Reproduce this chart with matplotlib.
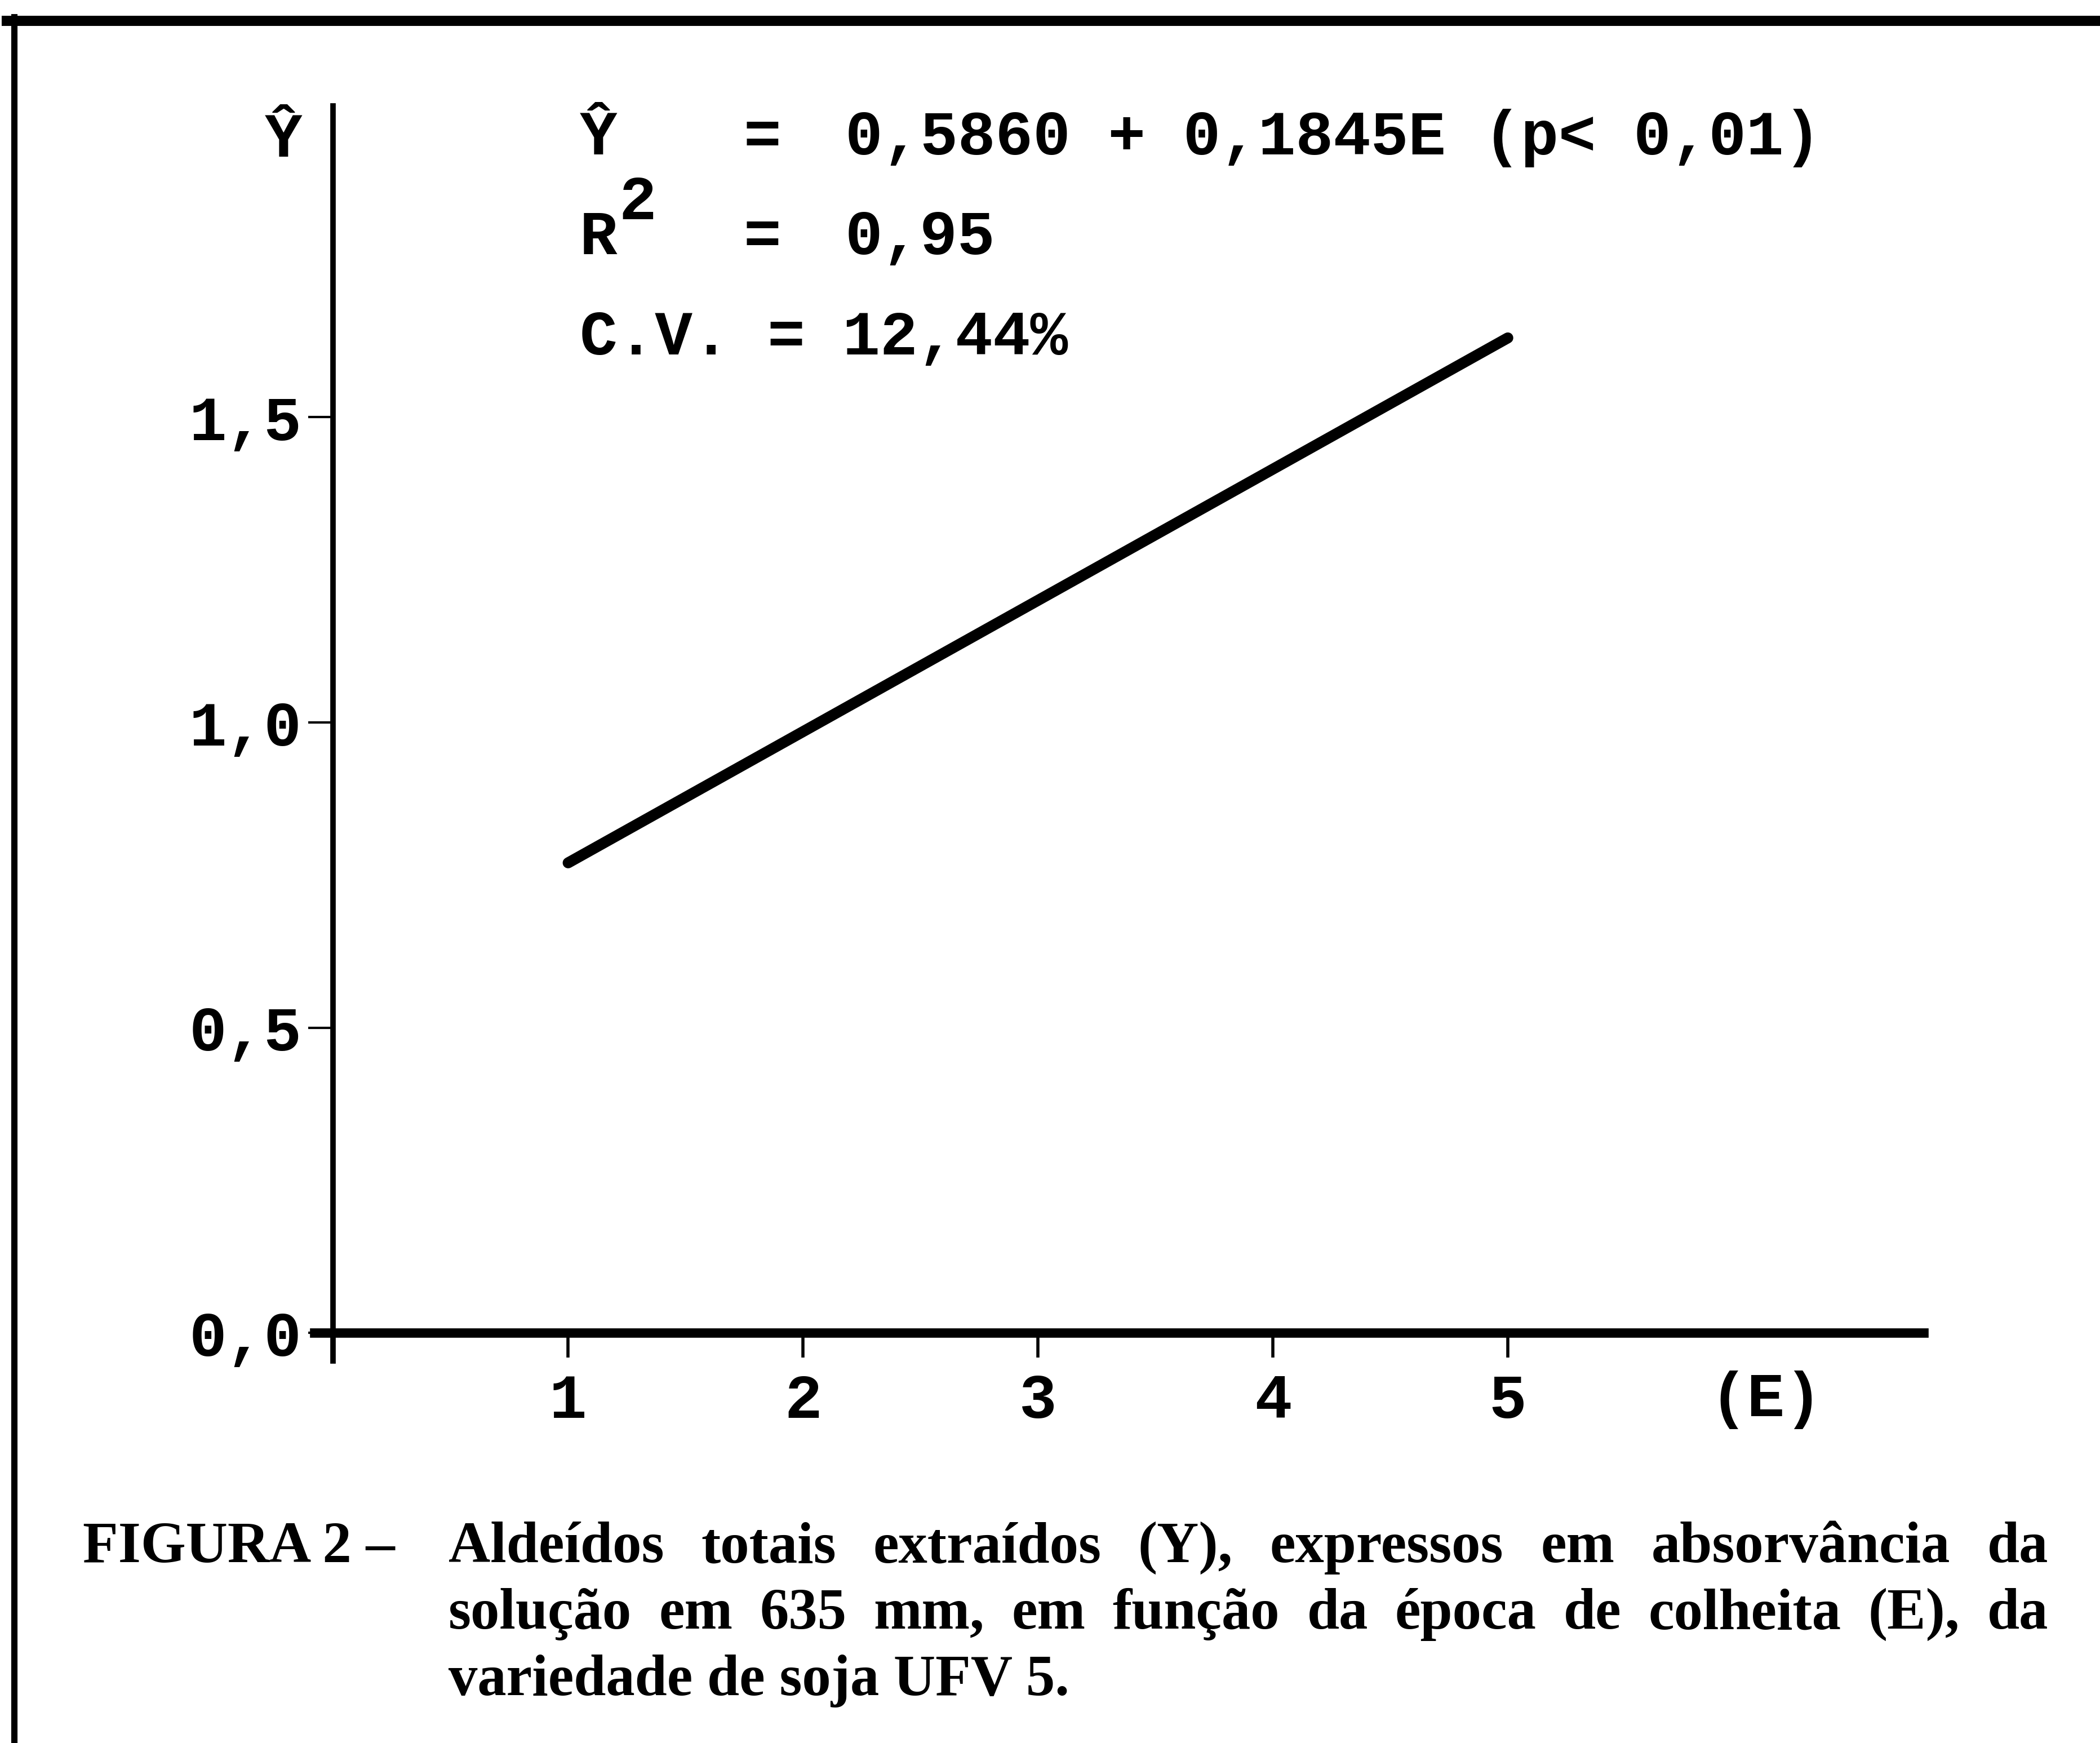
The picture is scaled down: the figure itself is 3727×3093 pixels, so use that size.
import matplotlib

matplotlib.use("Agg")
import matplotlib.pyplot as plt
from matplotlib.lines import Line2D
from matplotlib.transforms import IdentityTransform

W, H = 3727, 3093
DPI = 100
MONO = "Liberation Mono"
SERIF = "Liberation Serif"

# data
epoca = [1, 5]
aldeidos = [0.77, 1.63]
x_ticks = [1, 2, 3, 4, 5]
x_tick_labels = ["1", "2", "3", "4", "5"]
y_ticks = [0.0, 0.5, 1.0, 1.5]
y_tick_labels = ["0,0", "0,5", "1,0", "1,5"]

equacao = "0,5860 + 0,1845E (p< 0,01)"
r2_valor = "0,95"
cv_texto = "C.V. = 12,44%"

legenda_titulo = "FIGURA 2 \u2013"
legenda_l1 = "Aldeídos totais extraídos (Y), expressos em absorvância da"
legenda_l2 = "solução em 635 mm, em função da época de colheita (E), da"
legenda_l3 = "variedade de soja UFV 5."


def px(x, y):
    """pixel position (from top-left) -> figure fraction"""
    return x / W, 1 - y / H


fig = plt.figure(figsize=(W / DPI, H / DPI), dpi=DPI)

# axes: x=0 at 591 px, 417 px/unit ; y=0 at 2365 px, 1083 px/unit
ax = fig.add_axes([558 / W, 1 - 2415 / H, (3414 - 558) / W, (2415 - 188) / H])
ax.set_xlim(-0.08, 6.77)
ax.set_ylim(-0.046, 2.01)
ax.patch.set_alpha(0)

for s in ["top", "right"]:
    ax.spines[s].set_visible(False)
ax.spines["left"].set_position(("data", 0))
ax.spines["bottom"].set_position(("data", 0))
ax.spines["left"].set_linewidth(7)
ax.spines["bottom"].set_linewidth(12)

ax.plot(epoca, aldeidos, color="black", lw=14, solid_capstyle="round")

ax.set_xticks(x_ticks)
ax.set_xticklabels(x_tick_labels)
ax.set_yticks(y_ticks)
ax.set_yticklabels(y_tick_labels)
ax.tick_params(axis="y", direction="out", length=32, width=3, pad=8)
ax.tick_params(axis="x", direction="out", length=32, width=4, pad=18)
for lab in ax.get_xticklabels() + ax.get_yticklabels():
    lab.set_fontfamily(MONO)
    lab.set_fontweight("bold")
    lab.set_fontsize(80)

ax.text(6.1, -0.11, "(E)", ha="center", va="center", fontfamily=MONO,
        fontweight="bold", fontsize=80, clip_on=False)

mono = dict(fontfamily=MONO, fontweight="bold", fontsize=80, va="center", ha="left")
fig.text(*px(470, 249), "\u0176", **mono)
fig.text(*px(1029, 245), "\u0176", **mono)
fig.text(*px(1319, 245), "=", **mono)
fig.text(*px(1500, 245), equacao, **mono)
fig.text(*px(1029, 422), "R", **mono)
fig.text(*px(1098, 360), "2", **mono)
fig.text(*px(1319, 422), "=", **mono)
fig.text(*px(1500, 422), r2_valor, **mono)
fig.text(*px(1029, 600), cv_texto, **mono)

# frame of the scanned page
fig.add_artist(Line2D([12 / W, 1], [1 - 37 / H] * 2, color="black", lw=13,
                      transform=fig.transFigure))
fig.add_artist(Line2D([25 / W] * 2, [1 - 30 / H, 0], color="black", lw=8,
                      transform=fig.transFigure))

# caption, justified lines
serif = dict(fontfamily=SERIF, fontweight="bold", fontsize=74, va="baseline")
renderer = fig.canvas.get_renderer()


def justify(text, x0, x1, y):
    words = text.split()
    arts = [fig.text(0, 0, w, transform=IdentityTransform(), **serif) for w in words]
    widths = [a.get_window_extent(renderer).width for a in arts]
    gap = (x1 - x0 - sum(widths)) / (len(words) - 1)
    x = x0
    for a, w in zip(arts, widths):
        a.set_position((x, H - y))
        x += w + gap


fig.text(*px(147, 2772), legenda_titulo, **serif)
justify(legenda_l1, 796, 3635, 2772)
justify(legenda_l2, 796, 3635, 2890)
fig.text(*px(796, 3008), legenda_l3, **serif)

fig.savefig("out.png", dpi=DPI, facecolor="white")
